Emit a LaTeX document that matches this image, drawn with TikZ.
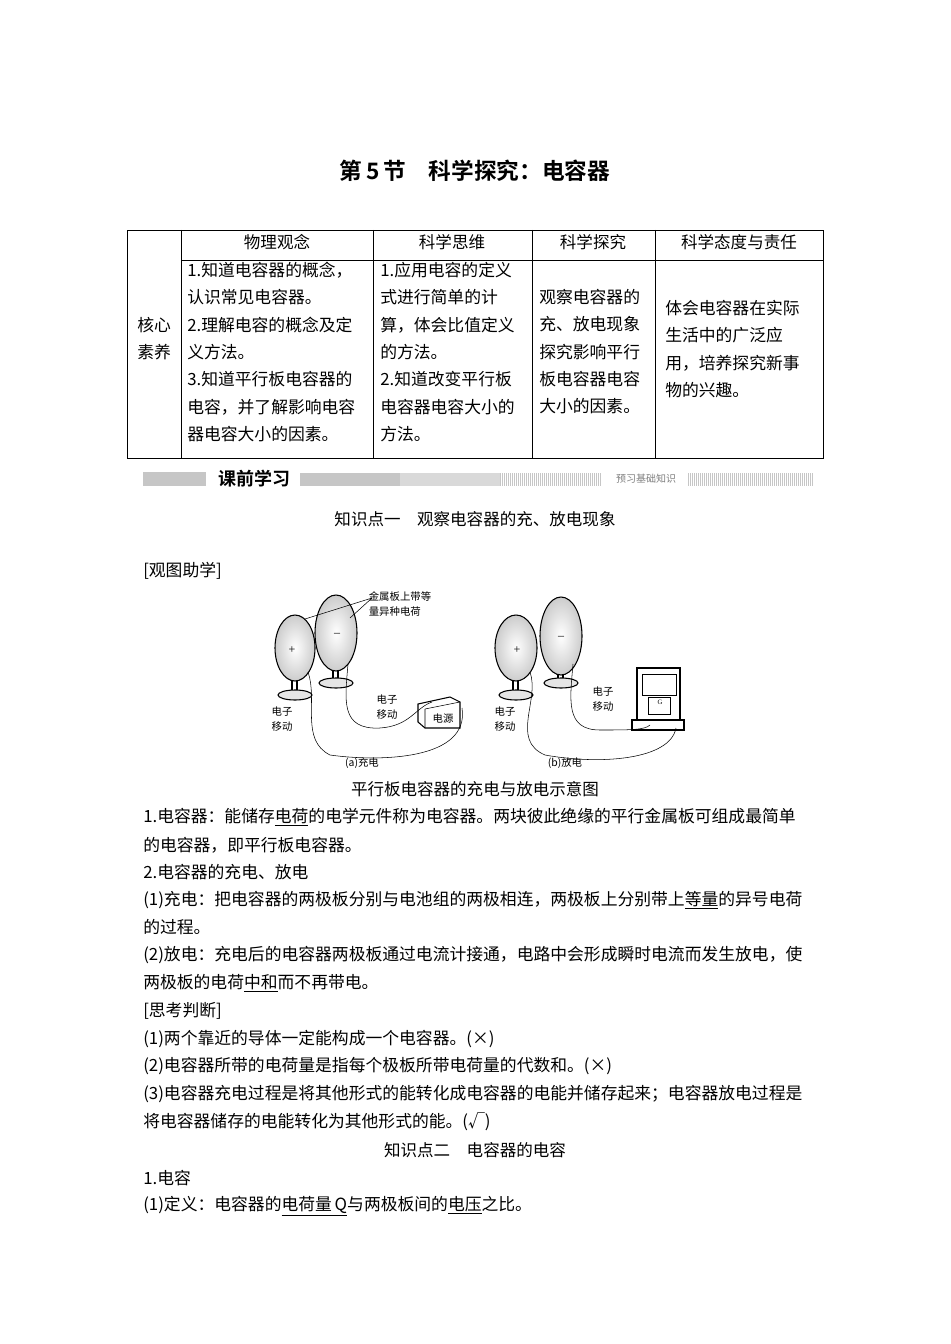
\documentclass[tikz,border=0pt]{standalone}
\usepackage{fontspec}
\setmainfont{Liberation Serif}
\newfontfamily\cjk{Noto Sans CJK SC}
\newfontfamily\cjkb{Noto Sans CJK SC Bold}
\usetikzlibrary{shapes.geometric}
\tikzset{
 body/.style={anchor=west,inner sep=0pt,font=\cjk\fontsize{12.6}{14}\selectfont},
 cell/.style={anchor=north west,inner sep=0pt,align=left,font=\cjk\fontsize{12.6}{20.5}\selectfont},
 hd/.style={inner sep=0pt,font=\cjk\fontsize{12.4}{14}\selectfont},
 small/.style={inner sep=0pt,font=\cjk\fontsize{7.8}{11}\selectfont,align=left},
 plate/.style={draw,thick,shading=radial,inner color=white,outer color=gray!40},
 wire/.style={thin}
}
\begin{document}
\begin{tikzpicture}[x=0.75pt,y=-0.75pt]
\useasboundingbox (0,0) rectangle (950,1344);
\fill[white] (0,0) rectangle (950,1344);
\node[inner sep=0pt,font=\cjkb\fontsize{17}{20}\selectfont] (title) at (475,171) {第\,5\,节\quad 科学探究：电容器};
% table
\draw (127,230) rectangle (823,458);
\foreach \x in {181,373,532,655} \draw (\x,230) -- (\x,458);
\draw (181,260) -- (823,260);
\node[hd] (h1) at (277,242) {物理观念};
\node[hd] (h2) at (452,242) {科学思维};
\node[hd] (h3) at (593,242) {科学探究};
\node[hd] (h4) at (739,242) {科学态度与责任};
\node[cell,align=center] (h0) at (137,317) {核心\\素养};
\node[cell] (c1) at (187,262) {1.知道电容器的概念，\\认识常见电容器。\\2.理解电容的概念及定\\义方法。\\3.知道平行板电容器的\\电容，并了解影响电容\\器电容大小的因素。};
\node[cell] (c2) at (380,262) {1.应用电容的定义\\式进行简单的计\\算，体会比值定义\\的方法。\\2.知道改变平行板\\电容器电容大小的\\方法。};
\node[cell] (c3) at (539,289) {观察电容器的\\充、放电现象\\探究影响平行\\板电容器电容\\大小的因素。};
\node[cell] (c4) at (665,300) {体会电容器在实际\\生活中的广泛应\\用，培养探究新事\\物的兴趣。};
% banner
\fill[gray!45] (143,472) rectangle (206,486);
\node[inner sep=0pt,font=\cjkb\fontsize{13.5}{14}\selectfont] (ban) at (254,479) {课前学习};
\fill[gray!45] (300,473) rectangle (400,486);
\fill[gray!30] (400,473) rectangle (500,486);
\foreach \x in {500,502,...,600} \draw[gray!45,line width=0.5pt] (\x,473) -- (\x,486);
\node[inner sep=0pt,font=\cjk\fontsize{7.5}{9}\selectfont,gray] (ban2) at (646,479) {预习基础知识};
\foreach \x in {688,690,...,812} \draw[gray!45,line width=0.5pt] (\x,473) -- (\x,486);
\node[hd] (k1) at (475,519) {知识点一\quad 观察电容器的充、放电现象};
\node[body] (g) at (143,571) {[观图助学]};
% figure
\begin{scope}
\foreach \cx/\cy/\by in {295/648/695, 336/633/683, 516/648/695, 561/636/683}{
 \draw[thick] (\cx-3,\cy+30) -- (\cx-3,\by) (\cx+2,\cy+30) -- (\cx+2,\by);
 \draw[thick,fill=gray!20] (\cx,\by) ellipse (17 and 5);
}
\draw[plate] (295,648) ellipse (20 and 33);
\draw[plate] (336,633) ellipse (21 and 38);
\draw[plate] (516,648) ellipse (21 and 33);
\draw[plate] (561,636) ellipse (21 and 39);
\node[font=\small] at (292,650) {+};
\node[font=\small] at (337,635) {--};
\node[font=\small] at (517,650) {+};
\node[font=\small] at (561,638) {--};
\node[small] (lab) at (400,604) {金属板上带等\\量异种电荷};
\draw (372,598) -- (305,619) (372,598) -- (350,618);
% battery
\draw[thick,fill=white] (418,704) -- (450,697) -- (460,702) -- (460,728) -- (425,728) -- (418,722) -- cycle;
\draw (425,709) -- (460,702) (425,709) -- (425,728);
\node[small] (bat) at (443,719) {电源};
% meter
\draw[thick,fill=white] (637,668) rectangle (680,720);
\draw (642,674) rectangle (676,695) (648,697) rectangle (670,714);
\draw[thick] (632,720) rectangle (684,730);
\node[font=\tiny] at (660,702) {G};
% wires
\draw[wire] (308,672) .. controls (318,700) and (300,740) .. (330,755) .. controls (380,762) and (470,760) .. (462,708);
\draw[wire] (348,664) .. controls (345,700) and (340,730) .. (380,728) .. controls (410,726) and (415,708) .. (432,702);
\draw[wire] (530,672) .. controls (540,700) and (510,740) .. (545,755) .. controls (600,765) and (670,760) .. (676,728);
\draw[wire] (573,664) .. controls (570,700) and (565,730) .. (600,730) .. controls (630,730) and (645,730) .. (650,725);
\node[small] (e1) at (282,719) {电子\\移动};
\node[small] (e2) at (387,707) {电子\\移动};
\node[small] (e3) at (505,719) {电子\\移动};
\node[small] (e4) at (603,699) {电子\\移动};
\node[small] (ca) at (362,763) {(a)充电};
\node[small] (cb) at (565,763) {(b)放电};
\end{scope}
\node[hd] (fc) at (475,789) {平行板电容器的充电与放电示意图};
\node[body] (l1) at (143,817) {1.电容器：能储存\underline{电荷}的电学元件称为电容器。两块彼此绝缘的平行金属板可组成最简单};
\node[body] (l2) at (143,845) {的电容器，即平行板电容器。};
\node[body] (l3) at (143,872) {2.电容器的充电、放电};
\node[body] (l4) at (143,900) {(1)充电：把电容器的两极板分别与电池组的两极相连，两极板上分别带上\underline{等量}的异号电荷};
\node[body] (l5) at (143,927) {的过程。};
\node[body] (l6) at (143,955) {(2)放电：充电后的电容器两极板通过电流计接通，电路中会形成瞬时电流而发生放电，使};
\node[body] (l7) at (143,983) {两极板的电荷\underline{中和}而不再带电。};
\node[body] (l8) at (143,1011) {[思考判断]};
\node[body] (l9) at (143,1039) {(1)两个靠近的导体一定能构成一个电容器。(×)};
\node[body] (l10) at (143,1066) {(2)电容器所带的电荷量是指每个极板所带电荷量的代数和。(×)};
\node[body] (l11) at (143,1094) {(3)电容器充电过程是将其他形式的能转化成电容器的电能并储存起来；电容器放电过程是};
\node[body] (l12) at (143,1122) {将电容器储存的电能转化为其他形式的能。(√)};
\node[hd] (k2) at (475,1150) {知识点二\quad 电容器的电容};
\node[body] (l13) at (143,1178) {1.电容};
\node[body] (l14) at (143,1206) {(1)定义：电容器的\underline{电荷量\,\textit{Q}}与两极板间的\underline{电压}之比。};
\end{tikzpicture}
\end{document}
